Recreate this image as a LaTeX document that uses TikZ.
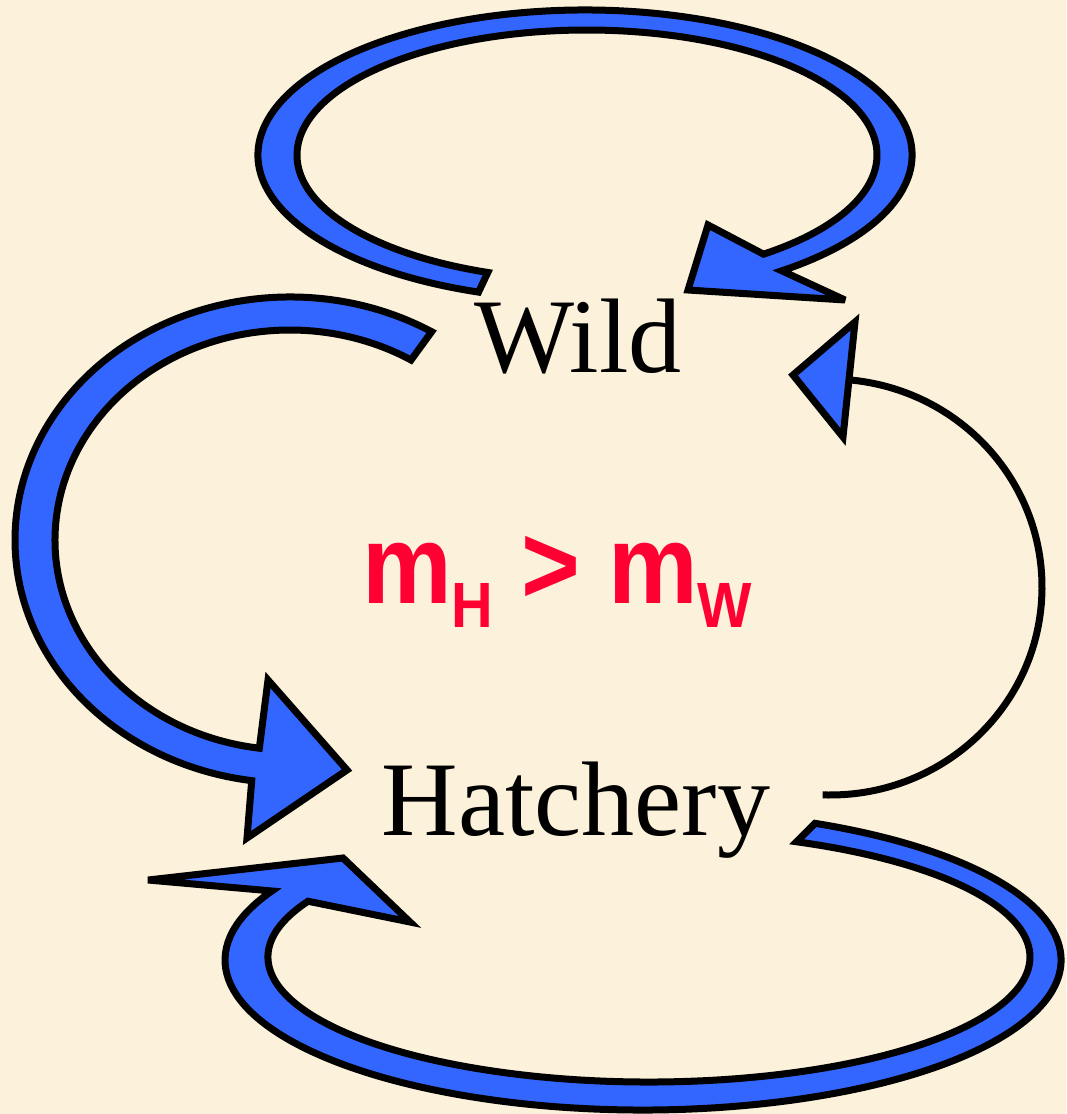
\documentclass[tikz,border=0pt]{standalone}
\usepackage{fontspec}
\setmainfont{Liberation Serif}
\setsansfont{Liberation Sans}
\usetikzlibrary{calc}

\definecolor{parchment}{RGB}{252,241,218}
\definecolor{arrowblue}{RGB}{51,102,255}
\definecolor{ratered}{RGB}{255,0,51}

\begin{document}
\begin{tikzpicture}[
        x=1pt, y=-1pt,
        blockarrow/.style={
            fill=arrowblue,
            draw=black,
            line width=7pt,
            line join=miter,
            miter limit=4
        },
        thinarc/.style={draw=black, line width=7pt},
        place/.style={font=\fontsize{106}{106}\selectfont, inner sep=0pt},
        rate/.style={text=ratered, font=\sffamily\bfseries\fontsize{112}{112}\selectfont, inner sep=0pt}
    ]
    \useasboundingbox (0,0) rectangle (1066,1114);
    \fill[parchment] (0,0) rectangle (1066,1114);

    % ellipse centres of the loops
    \coordinate (topout) at (585,155);
    \coordinate (topin) at (587,155);
    \coordinate (leftc) at (290,540);
    \coordinate (rightc) at (830,587);
    \coordinate (botout) at (643,960);
    \coordinate (botin) at (649,957);

    \node[place, anchor=base] (wild) at (578,372) {Wild};
    \node[place, anchor=base] (hatch) at (576,835) {Hatchery};
    \newcommand{\sub}[1]{\raisebox{-24pt}{\fontsize{64}{64}\selectfont #1}}
    \node[rate, anchor=base west] (rate) at (362,603)
        {\scalebox{0.9}[1]{m\sub{H} > m\sub{W}}};

    % Wild -> Wild
    \filldraw[blockarrow]
        ($(topout)+(109:327 and 145)$)
        arc[start angle=109, end angle=413, x radius=327, y radius=145]
        -- (845,300) -- (688,290) -- (708,225)
        -- ($(topin)+(412.5:290 and 125)$)
        arc[start angle=412.5, end angle=110, x radius=290, y radius=125]
        -- cycle;

    % Wild -> Hatchery
    \filldraw[blockarrow]
        ($(leftc)+(301:275 and 243)$)
        arc[start angle=301, end angle=98, x radius=275, y radius=243]
        -- (247,838) -- (347,770) -- (268,680)
        -- ($(leftc)+(97.5:235 and 210)$)
        arc[start angle=97.5, end angle=301, x radius=235, y radius=210]
        -- cycle;

    % Hatchery -> Wild
    \draw[thinarc] ($(rightc)+(92:212 and 208)$)
        arc[start angle=92, end angle=-85, x radius=212, y radius=208];
    \filldraw[blockarrow] (855,322) -- (793,375) -- (843,437) -- cycle;

    % Hatchery -> Hatchery
    \filldraw[blockarrow]
        ($(botout)+(-65.7:418 and 150)$)
        arc[start angle=-65.7, end angle=207.4, x radius=418, y radius=150]
        -- (148,880) -- (343,858) -- (410,922)
        -- ($(botin)+(206.5:381 and 125)$)
        arc[start angle=206.5, end angle=-67.2, x radius=381, y radius=125]
        -- cycle;
\end{tikzpicture}
\end{document}
